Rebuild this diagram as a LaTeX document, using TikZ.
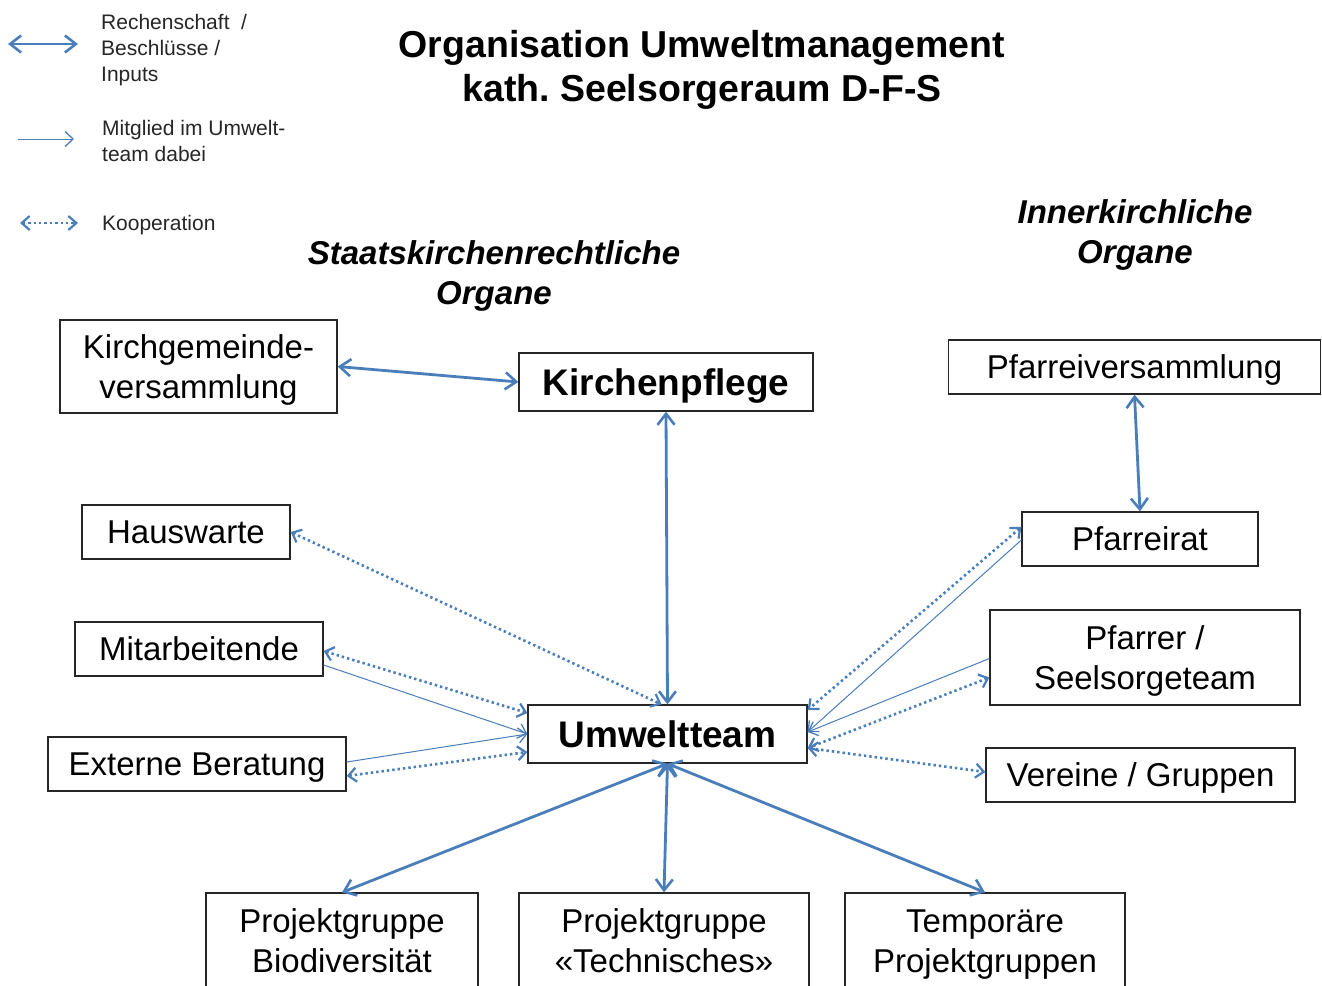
\documentclass[tikz,border=0pt]{standalone}
\usepackage{fontspec}
\setmainfont{Liberation Sans}
\usetikzlibrary{arrows.meta}
\definecolor{arrblue}{RGB}{74,126,187}
\frenchspacing
\tikzset{
  box/.style={draw=black!85, line width=1.3pt, inner sep=0pt, align=center, fill=white,
    text depth=0pt, font=\fontsize{33}{40}\selectfont},
  boldbox/.style={box, font=\fontsize{37}{44}\selectfont\bfseries},
  rechen/.style={draw=arrblue, line width=2.8pt, {Straight Barb[length=11pt,width=17pt,line width=2.6pt]}-{Straight Barb[length=11pt,width=17pt,line width=2.6pt]}},
  mitglied/.style={draw=arrblue, line width=1pt, -{Straight Barb[length=8pt,width=15pt,line width=1.3pt]}},
  koop/.style={draw=arrblue, line width=2.6pt, dash pattern=on 2.4pt off 3pt,
    {Straight Barb[length=8pt,width=14pt,line width=2.2pt]}-{Straight Barb[length=8pt,width=14pt,line width=2.2pt]}},
  legend/.style={anchor=west, inner sep=0pt, align=left, text=black!85, font=\fontsize{21}{26}\selectfont},
  heading/.style={align=center, inner sep=0pt, font=\fontsize{33}{40}\selectfont\bfseries\itshape},
}
\begin{document}
\begin{tikzpicture}[x=1pt,y=-1pt]
\useasboundingbox (0,0) rectangle (1322,985);
\fill[white] (0,0) rectangle (1322,985);

% legend
\coordinate (l1a) at (8,44);  \coordinate (l1b) at (78,44);
\coordinate (l2a) at (18,139); \coordinate (l2b) at (74,139);
\coordinate (l3a) at (20,223); \coordinate (l3b) at (78,223);
\draw[rechen] (l1a) -- (l1b);
\draw[mitglied] (l2a) -- (l2b);
\draw[koop] (l3a) -- (l3b);
\node[legend] (lg1) at (101,50.5) {Rechenschaft~~/\\Beschlüsse /\\Inputs};
\node[legend] (lg2) at (102,141) {Mitglied im Umwelt-\\team dabei};
\node[legend] (lg3) at (102,225) {Kooperation};

% title and headings
\node[align=center, inner sep=0pt, font=\fontsize{37.5}{44}\selectfont\bfseries] (title) at (702,70)
  {Organisation Umweltmanagement\\kath. Seelsorgeraum D-F-S};
\node[heading] (h1) at (494,276) {Staatskirchenrechtliche\\Organe};
\node[heading] (h2) at (1135,235) {Innerkirchliche\\Organe};

% boxes
\node[box, minimum width=277pt, minimum height=93pt] (kgv) at (198.5,366.5) {Kirchgemeinde-\\versammlung};
\node[boldbox, minimum width=294pt, minimum height=58pt] (kp) at (666,382) {Kirchenpflege};
\node[box, minimum width=372pt, minimum height=54pt] (pv) at (1134.5,367) {Pfarreiversammlung};
\node[box, minimum width=208pt, minimum height=54pt] (hw) at (186,532) {Hauswarte};
\node[box, minimum width=236pt, minimum height=54pt] (pr) at (1140,539) {Pfarreirat};
\node[box, minimum width=248pt, minimum height=54pt] (ma) at (199,649) {Mitarbeitende};
\node[box, minimum width=310pt, minimum height=95pt] (ps) at (1145,657.5) {Pfarrer /\\Seelsorgeteam};
\node[boldbox, minimum width=279pt, minimum height=58pt] (ut) at (667.5,734) {Umweltteam};
\node[box, minimum width=298pt, minimum height=54pt] (eb) at (197,764) {Externe Beratung};
\node[box, minimum width=309pt, minimum height=54pt] (vg) at (1140.5,775) {Vereine / Gruppen};
\node[box, minimum width=272pt, minimum height=96pt] (pb) at (342,941) {Projektgruppe\\Biodiversität};
\node[box, minimum width=290pt, minimum height=96pt] (pt) at (664,941) {Projektgruppe\\«Technisches»};
\node[box, minimum width=280pt, minimum height=96pt] (tp) at (985,941) {Temporäre\\Projektgruppen};

% Rechenschaft arrows
\draw[rechen] (kgv.east) -- (kp.west);
\draw[rechen] (kp.south) -- (ut.north);
\draw[rechen] (pv.south) -- (pr.north);
\draw[rechen] (ut.south) -- (pb.north);
\draw[rechen] (ut.south) -- (pt.north);
\draw[rechen] (ut.south) -- (tp.north);

% Kooperation
\draw[koop] (hw.east) -- ([xshift=-6pt]ut.north);
\draw[koop] ([yshift=-2pt]ma.east) -- ([yshift=21pt]ut.west);
\draw[koop] ([yshift=-12pt]eb.east) -- ([yshift=-18pt]ut.west);
\draw[koop] ([yshift=12pt]pr.west) -- ([yshift=24pt]ut.east);
\draw[koop] ([yshift=-20pt]ps.west) -- ([yshift=-14pt]ut.east);
\draw[koop] ([yshift=-14pt]ut.east) -- ([yshift=3pt]vg.west);

% Mitglied
\draw[mitglied] ([yshift=-16pt]ma.east) -- (ut.west);
\draw[mitglied] ([yshift=2pt]eb.east) -- (ut.west);
\draw[mitglied] ([yshift=-1pt]pr.west) -- ([yshift=2pt]ut.east);
\draw[mitglied] ([yshift=-1pt]ps.west) -- ([yshift=2pt]ut.east);
\end{tikzpicture}
\end{document}
